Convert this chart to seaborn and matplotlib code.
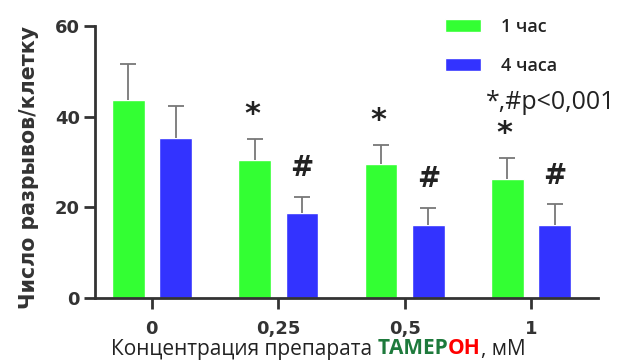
import numpy as np
import pandas as pd
import matplotlib
matplotlib.use("Agg")
import matplotlib.pyplot as plt
import seaborn as sns
from matplotlib.patches import Patch
from matplotlib.offsetbox import TextArea, HPacker, AnchoredOffsetbox

# ── Data ─────────────────────────────────────────────────────
concs      = ["0", "0,25", "0,5", "1"]
groups     = ["1 час", "4 часа"]
mean_1h    = [43.7, 30.4, 29.6, 26.2]
err_1h     = [7.9, 4.6, 4.2, 4.7]
mean_4h    = [35.3, 18.7, 16.1, 16.1]
err_4h     = [7.1, 3.6, 3.8, 4.6]
marks_1h   = ["", "*", "*", "*"]
marks_4h   = ["", "#", "#", "#"]

GREEN = "#33ff33"
BLUE  = "#3333ff"
DARK  = "#333333"

df = pd.DataFrame({
    "conc":  concs * 2,
    "group": [groups[0]] * 4 + [groups[1]] * 4,
    "value": mean_1h + mean_4h,
})

sns.set_style("white")
plt.rcParams["font.family"] = ["Open Sans", "DejaVu Sans"]

fig = plt.figure(figsize=(6.18, 3.64), dpi=100)
ax = fig.add_axes([95 / 618, 1 - 298 / 364, 503 / 618, 272 / 364])

sns.barplot(data=df, x="conc", y="value", hue="group", order=concs,
            hue_order=groups, palette=[GREEN, BLUE], errorbar=None,
            width=0.75, gap=0.31, ax=ax, legend=False, saturation=1)

# one-sided error bars + significance marks
for cont, errs, marks in zip(ax.containers, [err_1h, err_4h], [marks_1h, marks_4h]):
    xs = [b.get_x() + b.get_width() / 2 for b in cont]
    hs = [b.get_height() for b in cont]
    _, caps, _ = ax.errorbar(xs, hs, yerr=[np.zeros(len(errs)), errs], fmt="none",
                             ecolor="#777777", elinewidth=1.3, capsize=6,
                             capthick=1.3)
    caps[0].set_visible(False)   # hide the lower cap
    for x, h, e, m in zip(xs, hs, errs, marks):
        if m == "*":
            ax.text(x - 0.02, h + e + 2.2, m, ha="center", va="bottom",
                    fontsize=22, fontweight="bold", color="#222222",
                    family="DejaVu Sans")
        elif m == "#":
            ax.text(x, h + e + 3.2, m, ha="center", va="bottom",
                    fontsize=20, fontweight="bold", color="#222222",
                    family="DejaVu Sans")

ax.text(0.905, 0.72, "*,#p<0,001", transform=ax.transAxes, ha="center",
        va="center", fontsize=18, color="#222222")

ax.set_xlim(-0.45, 3.53)
ax.set_ylim(0, 60)
ax.set_yticks([0, 20, 40, 60])

sns.despine(ax=ax)
for s in ["left", "bottom"]:
    ax.spines[s].set_linewidth(2)
    ax.spines[s].set_color(DARK)
ax.tick_params(axis="both", direction="out", length=8, width=2, color=DARK,
               labelsize=13, labelcolor=DARK, left=True, bottom=True)
for lbl in ax.get_xticklabels() + ax.get_yticklabels():
    lbl.set_fontweight("bold")
    lbl.set_family("DejaVu Sans")
ax.tick_params(axis="x", pad=8)
ax.tick_params(axis="y", pad=3)

ax.set_ylabel("Число разрывов/клетку", fontsize=14.8, fontweight="bold",
              color=DARK, family="DejaVu Sans")
ax.yaxis.set_label_coords(-0.112, 0.48)

# x label with coloured drug name
ax.set_xlabel("")
fs = 15
parts = [
    TextArea("Концентрация препарата ", textprops=dict(fontsize=fs, color="#222222")),
    TextArea("ТАМЕР", textprops=dict(fontsize=fs, color="#1e7a3c", fontweight="bold")),
    TextArea("ОН", textprops=dict(fontsize=fs, color="#ff0000", fontweight="bold")),
    TextArea(", мМ", textprops=dict(fontsize=fs, color="#222222")),
]
box = HPacker(children=parts, align="baseline", pad=0, sep=0)
anch = AnchoredOffsetbox(loc="center", child=box, frameon=False,
                         bbox_to_anchor=(318 / 618, 1 - 349 / 364),
                         bbox_transform=fig.transFigure, borderpad=0)
fig.add_artist(anch)

# legend
handles = [Patch(facecolor=GREEN), Patch(facecolor=BLUE)]
leg = ax.legend(handles, groups, loc="upper left",
                bbox_to_anchor=(334 / 503, 1.09), frameon=False,
                handlelength=2.0, handleheight=0.75, labelspacing=1.15,
                handletextpad=1.1, prop=dict(size=13, weight="semibold"))
for t in leg.get_texts():
    t.set_color("#222222")

fig.savefig("out.png", dpi=100)
